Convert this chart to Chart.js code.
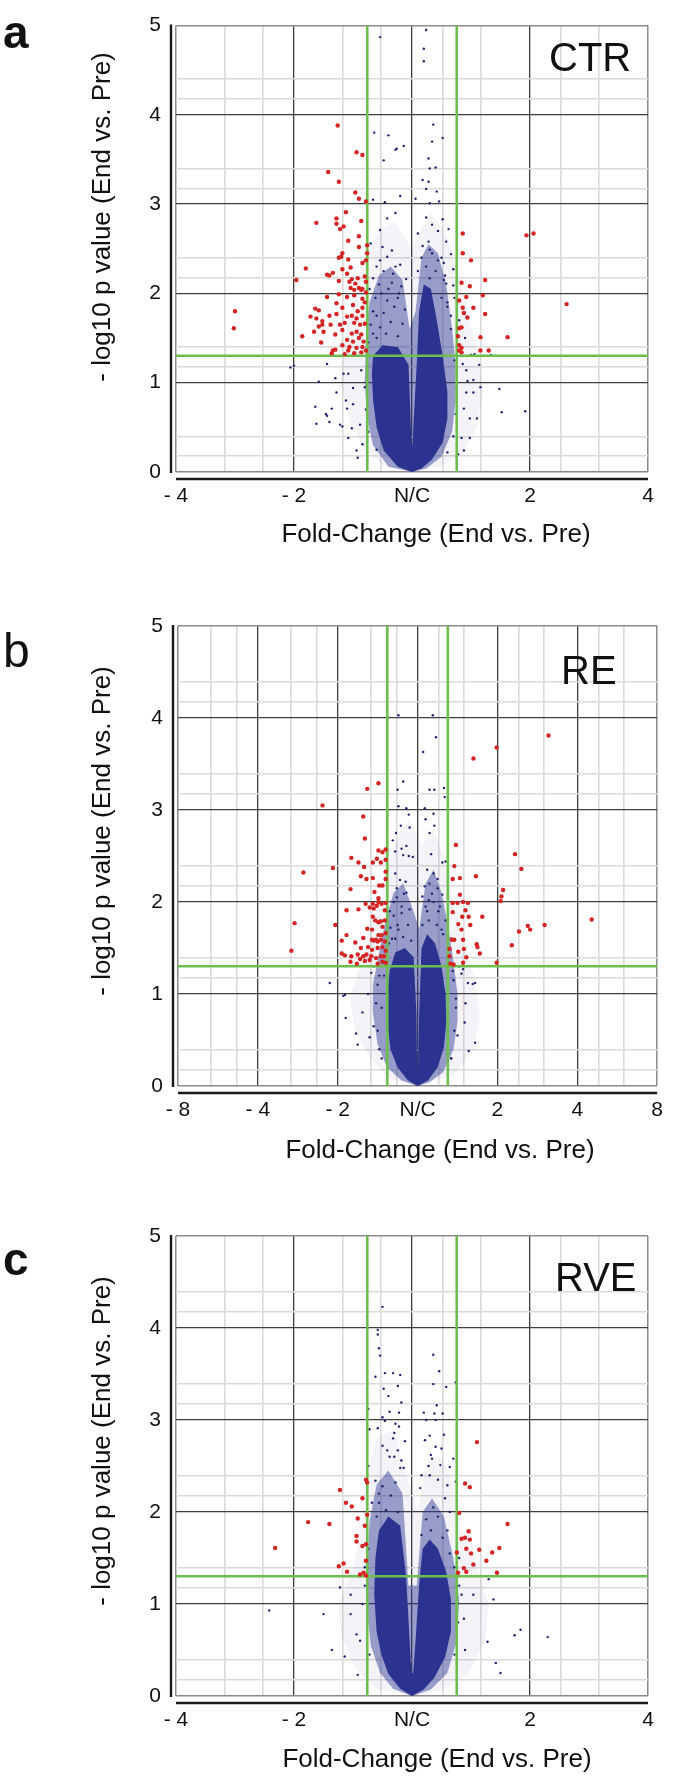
<!DOCTYPE html>
<html lang="en">
<head>
<meta charset="UTF-8" />
<title>Volcano plots</title>
<style>
  body { margin: 0; background: #fff; width: 675px; height: 1776px; position: relative; overflow: hidden;
         font-family: "Liberation Sans", Arial, sans-serif; color: #111; }
  .panel { position: absolute; left: 0; width: 675px; }
  .txt { position: absolute; line-height: 1; white-space: nowrap; }
  .xt { position: absolute; width: 400px; text-align: center; line-height: 1; font-size: 26px; white-space: nowrap; }
  .yt { position: absolute; left: -99px; width: 400px; height: 26px; text-align: center; line-height: 1;
        font-size: 26px; white-space: nowrap; transform: rotate(-90deg); }
</style>
</head>
<body>
<div class="panel" style="top:0"><canvas id="chartA" width="675" height="560"></canvas></div>
<div class="panel" style="top:580px"><canvas id="chartB" width="675" height="600"></canvas></div>
<div class="panel" style="top:1180px"><canvas id="chartC" width="675" height="596"></canvas></div>

<div class="txt" style="left:3px;top:9px;font-size:46px;font-weight:bold">a</div>
<div class="txt" style="left:3px;top:627px;font-size:48px">b</div>
<div class="txt" style="left:3px;top:1236px;font-size:46px;font-weight:bold">c</div>
<div class="txt" style="left:549px;top:37px;font-size:40px">CTR</div>
<div class="txt" style="left:561px;top:650px;font-size:40px">RE</div>
<div class="txt" style="left:555px;top:1257px;font-size:40px">RVE</div>
<div class="xt" style="left:236px;top:520px">Fold-Change (End vs. Pre)</div>
<div class="xt" style="left:240px;top:1136px">Fold-Change (End vs. Pre)</div>
<div class="xt" style="left:237px;top:1745px">Fold-Change (End vs. Pre)</div>
<div class="yt" style="top:204px">- log10 p value (End vs. Pre)</div>
<div class="yt" style="top:818px">- log10 p value (End vs. Pre)</div>
<div class="yt" style="top:1428px">- log10 p value (End vs. Pre)</div>

<script src="https://cdn.jsdelivr.net/npm/chart.js"></script>
<script>
// x = log2 fold change, y = -log10 p
const yTicks = [0, 1, 2, 3, 4, 5];
const yMinor = [0.176, 0.398, 1.176, 1.398, 2.176, 2.398, 3.176, 3.398, 4.176, 4.398];

const xTicksA = [-2, -1, 0, 1, 2];
const xLabelsA = ['- 4', '- 2', 'N/C', '2', '4'];
const xMinorA = [-1.585, -1.263, -0.585, -0.263, 0.263, 0.585, 1.263, 1.585];

const xTicksB = [-3, -2, -1, 0, 1, 2, 3];
const xLabelsB = ['- 8', '- 4', '- 2', 'N/C', '2', '4', '8'];
const xMinorB = [-2.585, -2.263, -1.585, -1.263, -0.585, -0.263, 0.263, 0.585, 1.263, 1.585, 2.263, 2.585];

// cut-offs: fold change 1.3 (log2), p = 0.05
const fcCut = 0.379;
const pCut = 1.301;

// ---- CTR ----
const redA = [[-0.63,3.88],[-0.47,3.58],[-0.42,3.55],[-0.71,3.36],[-0.62,3.25],[-0.48,3.13],[-0.45,3.06],[-0.39,3.03],
  [-0.56,2.91],[-0.81,2.79],[-0.64,2.84],[-0.64,2.78],[-0.61,2.72],[-0.58,2.75],[-0.43,2.81],[-0.54,2.59],[-0.45,2.64],
  [-0.45,2.52],[-0.38,2.54],[-0.59,2.45],[-0.62,2.40],[-0.60,2.41],[-0.54,2.38],[-0.38,2.45],[-0.42,2.34],[-0.90,2.28],
  [-0.72,2.21],[-0.70,2.20],[-0.67,2.23],[-0.59,2.27],[-0.52,2.29],[-0.98,2.15],[-0.62,2.14],[-0.55,2.22],[-0.53,2.13],
  [-0.51,2.16],[-0.48,2.11],[-0.46,2.17],[-0.40,2.19],[-0.39,2.13],[-0.52,2.06],[-0.49,2.04],[-0.45,2.06],[-0.42,2.05],
  [-0.72,1.96],[-0.62,1.99],[-0.55,1.96],[-0.49,1.98],[-0.42,1.94],[-0.40,1.90],[-0.82,1.83],[-0.79,1.81],[-0.64,1.89],
  [-0.59,1.84],[-0.50,1.87],[-0.46,1.80],[-0.42,1.84],[-0.86,1.74],[-0.81,1.72],[-0.76,1.69],[-0.70,1.75],[-0.64,1.77],
  [-0.55,1.74],[-0.51,1.75],[-0.47,1.72],[-0.42,1.75],[-0.79,1.63],[-0.76,1.65],[-0.69,1.65],[-0.61,1.65],[-0.57,1.67],
  [-0.49,1.67],[-0.44,1.65],[-0.40,1.66],[-0.83,1.57],[-0.75,1.57],[-0.65,1.54],[-0.59,1.59],[-0.51,1.55],[-0.47,1.57],
  [-0.43,1.54],[-0.93,1.52],[-0.77,1.45],[-0.55,1.48],[-0.50,1.46],[-0.45,1.50],[-0.41,1.46],[-0.59,1.42],[-0.53,1.40],
  [-0.47,1.39],[-0.42,1.40],[-0.67,1.36],[-0.65,1.37],[-0.68,1.33],[-0.57,1.32],[-0.54,1.36],[-0.43,1.34],[-0.49,1.33],
  [-0.39,1.36],[-1.50,1.80],[-1.51,1.61],[-0.39,2.37],[-0.43,2.04],[-0.39,2.01],
  [0.43,2.67],[0.43,2.45],[0.50,2.37],[0.42,2.12],[0.49,2.08],[0.40,1.92],[0.46,1.96],[0.43,1.84],[0.52,1.84],
  [0.44,1.78],[0.47,1.73],[0.40,1.61],[0.42,1.62],[0.39,1.52],[0.40,1.42],[0.42,1.39],[0.40,1.36],[0.42,1.34],
  [0.58,1.51],[0.97,2.65],[1.03,2.67],[1.31,1.88],[0.81,1.51],[0.62,2.15],[0.60,1.98],[0.62,1.77],[0.65,1.36],[0.58,1.36]];

const blueA = [[-0.27,4.87],[0.12,4.95],[0.10,4.74],[0.10,4.60],[-0.13,3.62],
  [-0.32,3.80],[-0.20,3.77],[-0.07,3.65],[-0.14,3.61],[-0.24,3.49],[0.18,3.89],[0.26,3.74],[0.17,3.70],[0.14,3.51],
  [0.15,3.40],[0.20,3.41],[0.09,3.27],[0.14,3.25],[0.21,3.14],[0.12,3.17],[-0.33,3.05],[-0.23,3.02],[-0.10,3.09],
  [0.03,3.06],[0.15,3.01],[0.23,3.03],[-0.14,2.90],[-0.21,2.84],[0.12,2.85],[0.17,2.77],[0.26,2.83],[0.22,2.70],
  [0.31,2.72],[-0.27,2.71],[0.05,2.67],[0.14,2.58],[-0.35,2.56],[-0.25,2.52],[-0.17,2.48],[0.09,2.53],[0.15,2.49],
  [0.29,2.58],[0.33,2.44],[-0.27,2.37],[-0.21,2.41],[-0.10,2.32],[0.22,2.37],[0.27,2.34],[0.35,2.27],[-0.33,2.17],
  [-0.16,2.22],[-0.05,2.16],[0.15,2.17],[0.29,2.11],[0.35,2.09],
  [-1.03,1.17],[-0.82,0.73],[-0.81,0.54],[-0.72,0.63],[-0.65,1.05],[-0.55,0.71],[-0.51,0.49],[-0.50,0.94],[-0.47,0.24],
  [-0.43,1.14],[0.46,1.14],[0.52,0.89],[0.55,0.60],[0.49,0.38],[0.53,1.32],[0.44,0.71],[0.44,0.24],[0.38,0.17],
  [0.74,0.93],[0.76,0.67],[0.96,0.68],[0.50,1.31],[0.67,1.31],[0.47,1.02],[-1.00,1.19],[-0.73,0.65],[-0.79,1.01],
  [-0.70,0.56],[-0.46,0.16],[-0.59,0.51],[-0.40,1.90],[-0.36,2.05],[-0.30,2.30],[0.36,1.95],[0.40,1.70],[0.45,1.50],
  [-0.58,1.10],[-0.56,0.80],[0.58,0.95],[0.57,1.20],
  [-0.72,1.21],[-0.64,0.89],[-0.54,1.10],[-0.50,0.76],[-0.44,0.53],[-0.42,0.31],[-0.38,1.21],[-0.54,0.38],[-0.61,0.53],
  [-0.68,0.71],[0.43,1.21],[0.46,0.89],[0.49,0.60],[0.42,0.38],[0.52,1.03],[0.39,0.20],[-0.30,1.75],[-0.26,2.00],
  [-0.33,1.55],[0.30,1.85],[0.33,1.60],[0.28,2.20],[-0.20,2.05],[-0.12,1.95],
  [-0.37,1.45],[-0.30,1.50],[-0.22,1.55],[-0.12,1.52],[-0.35,1.65],[-0.27,1.62],[-0.18,1.68],[-0.08,1.66],[-0.33,1.80],
  [-0.24,1.78],[-0.15,1.85],[-0.06,1.82],[-0.31,1.95],[-0.21,1.92],[-0.11,2.00],[-0.28,2.10],[-0.17,2.12],[-0.09,2.08],
  [-0.24,2.25],[-0.14,2.30],[0.05,2.25],[0.12,2.30],[0.20,2.25],[0.27,2.15],[0.08,2.40],[0.17,2.45],[0.25,2.40],
  [0.30,1.90],[0.33,1.75],[0.25,1.95],[-0.37,0.45],[-0.39,0.70],[-0.40,0.95],[-0.38,1.30],[0.35,0.40],[0.37,0.65],
  [0.38,0.95],[0.36,1.25],[-0.30,0.25],[0.30,0.22]];

const coreA = [[0,0],[-0.12,0.06],[-0.24,0.24],[-0.30,0.50],[-0.33,0.80],[-0.34,1.10],[-0.33,1.30],[-0.25,1.42],
  [-0.12,1.40],[-0.03,1.20],[-0.012,0.60],[-0.005,0.30],[0.005,0.30],[0.015,0.60],[0.04,1.20],[0.06,1.80],[0.10,2.10],
  [0.16,2.05],[0.21,1.70],[0.26,1.30],[0.30,0.90],[0.30,0.60],[0.26,0.33],[0.17,0.14],[0.08,0.04],[0,0]];
const midA = [[0,0],[-0.20,0.06],[-0.33,0.30],[-0.38,0.60],[-0.40,1.00],[-0.39,1.50],[-0.36,1.90],[-0.28,2.20],
  [-0.18,2.30],[-0.08,2.15],[-0.02,1.60],[0.03,1.80],[0.08,2.40],[0.14,2.55],[0.22,2.45],[0.29,2.10],[0.34,1.60],
  [0.37,1.20],[0.37,0.80],[0.34,0.45],[0.25,0.17],[0.12,0.04],[0,0]];
const haloA = [[0,0],[-0.25,0.08],[-0.40,0.25],[-0.52,0.55],[-0.60,0.95],[-0.58,1.40],[-0.50,1.90],[-0.40,2.40],
  [-0.28,2.70],[-0.15,2.80],[0,2.50],[0.15,2.90],[0.28,2.70],[0.38,2.30],[0.47,1.80],[0.56,1.30],[0.60,0.90],
  [0.55,0.50],[0.42,0.20],[0.25,0.06],[0,0]];

// ---- RE ----
const redB = [[1.64,3.81],[0.99,3.68],[0.70,3.56],[-0.49,3.29],[-0.63,3.23],[-1.19,3.05],[-0.68,2.93],[-0.66,2.69],
  [0.48,2.62],[1.22,2.52],[1.30,2.36],[-0.49,2.56],[-0.44,2.54],[-0.40,2.57],[-0.83,2.48],[-0.74,2.43],[-0.56,2.43],
  [-0.51,2.47],[-0.46,2.43],[-0.40,2.46],[-0.67,2.38],[-1.43,2.32],[-1.06,2.37],[0.46,2.39],[0.73,2.28],[-0.71,2.28],
  [-0.64,2.25],[-0.56,2.26],[-0.40,2.33],[0.44,2.25],[0.53,2.26],[-0.84,2.14],[-0.48,2.18],[-0.44,2.18],[-0.40,2.25],
  [-0.54,2.11],[-0.49,2.04],[-0.49,2.00],[-0.56,1.98],[-0.51,1.96],[-0.55,1.93],[-0.60,1.94],[-0.65,1.98],[-0.45,1.98],
  [-0.40,1.99],[-0.89,1.91],[-0.74,1.92],[-0.41,1.91],[1.07,2.13],[1.05,2.06],[1.04,2.01],[0.53,2.08],[0.50,1.99],
  [0.57,2.00],[0.63,1.99],[0.44,1.99],[0.44,1.89],[0.60,1.91],[0.56,1.84],[0.64,1.84],[0.81,1.84],[0.51,1.76],
  [0.55,1.70],[0.66,1.75],[2.18,1.81],[1.59,1.75],[1.38,1.74],[1.41,1.70],[1.27,1.68],[1.18,1.53],[0.99,1.34],
  [0.74,1.54],[0.75,1.51],[0.78,1.44],[0.57,1.59],[0.43,1.59],[0.46,1.59],[0.40,1.49],[0.51,1.46],[0.58,1.49],
  [0.61,1.40],[0.57,1.34],[0.40,1.41],[0.41,1.33],[0.45,1.32],[-1.54,1.77],[-1.03,1.75],[-0.89,1.64],[-0.78,1.56],
  [-0.95,1.58],[-0.56,1.84],[-0.53,1.80],[-0.49,1.78],[-0.46,1.79],[-0.41,1.80],[-0.44,1.73],[-0.57,1.70],[-0.63,1.71],
  [-0.49,1.64],[-0.45,1.64],[-0.40,1.66],[-0.57,1.59],[-0.55,1.58],[-0.52,1.59],[-0.50,1.57],[-0.46,1.59],[-0.41,1.57],
  [-0.68,1.61],[-0.71,1.50],[-0.62,1.51],[-0.57,1.48],[-0.50,1.50],[-0.44,1.51],[-0.40,1.47],[-1.58,1.47],[-0.95,1.44],
  [-0.91,1.42],[-0.83,1.41],[-0.75,1.43],[-0.68,1.41],[-0.64,1.43],[-0.58,1.41],[-0.72,1.38],[-0.66,1.36],[-0.60,1.37],
  [-0.52,1.39],[-0.46,1.41],[-0.42,1.41],[-0.84,1.35],[-0.76,1.33],[-0.50,1.33],[-0.44,1.35],[-0.40,1.34]];

const blueB = [[-0.24,4.03],[0.19,4.03],[0.23,3.79],[0.07,3.63],[-0.18,3.31],[-0.25,3.22],[0.33,3.24],[0.34,3.14],
  [0.15,3.22],[0.21,3.22],[-0.24,3.04],[-0.14,3.02],[0.09,3.02],[-0.11,2.95],[0.20,2.96],[0.10,2.90],[0.21,2.83],
  [-0.21,2.83],[-0.10,2.81],[-0.27,2.75],[0.15,2.75],[-0.31,2.67],[-0.14,2.61],[-0.20,2.58],[-0.28,2.55],[-0.06,2.49],
  [-0.11,2.50],[-0.18,2.51],[0.17,2.52],[0.31,2.43],[0.35,2.44],[0.12,2.35],[0.20,2.31],[-0.28,2.31],[-0.22,2.24],
  [-0.15,2.22],[-0.26,2.15],[-0.17,2.09],[0.09,2.17],[0.18,2.09],[0.25,2.15],[0.31,2.08],[0.06,2.06],[0.14,2.02],
  [0.63,1.12],[0.72,1.12],[-1.10,1.12],[-0.93,0.98],[0.55,1.22],[-0.90,0.74],[-0.91,0.99],[-0.77,0.57],[-0.75,0.45],
  [-0.69,0.80],[0.72,0.47],[0.69,1.11],[0.59,0.69],[0.64,0.38],[0.57,1.27],[-0.58,1.23],[-0.60,0.53],
  [-0.35,1.90],[-0.30,2.00],[0.35,1.80],[0.42,1.60],[-0.62,1.00],[0.60,0.90],
  [-0.50,1.10],[-0.45,0.85],[-0.55,0.65],[-0.48,0.40],[-0.42,1.20],[0.45,1.15],[0.48,0.85],[0.50,0.55],[0.42,0.30],
  [-0.32,1.60],[-0.25,1.75],[0.30,1.70],[0.26,1.90],[-0.20,1.95],[0.12,1.90],
  [-0.36,1.55],[-0.28,1.60],[-0.18,1.62],[-0.08,1.58],[-0.34,1.72],[-0.24,1.70],[-0.12,1.75],[-0.30,1.85],[-0.20,1.88],
  [-0.10,1.92],[-0.26,2.05],[-0.14,2.10],[0.06,1.75],[0.14,1.80],[0.24,1.75],[0.32,1.65],[0.10,1.95],[0.20,2.00],
  [0.28,1.95],[0.15,2.20],[0.25,2.25],[-0.45,0.30],[-0.50,0.60],[-0.52,0.90],[-0.48,1.20],[0.42,0.30],[0.46,0.60],
  [0.48,0.95],[0.44,1.25],[-0.55,1.30],[0.52,1.30]];

const coreB = [[0,0],[-0.12,0.06],[-0.25,0.20],[-0.34,0.40],[-0.38,0.70],[-0.38,1.00],[-0.35,1.25],[-0.28,1.45],
  [-0.16,1.50],[-0.05,1.40],[-0.015,0.80],[-0.006,0.20],[0.006,0.20],[0.02,0.80],[0.05,1.50],[0.12,1.65],[0.22,1.55],
  [0.30,1.30],[0.35,1.00],[0.36,0.70],[0.33,0.42],[0.25,0.20],[0.13,0.06],[0,0]];
const midB = [[0,0],[-0.20,0.06],[-0.38,0.20],[-0.50,0.45],[-0.56,0.80],[-0.56,1.10],[-0.48,1.45],[-0.40,1.80],
  [-0.30,2.10],[-0.18,2.20],[-0.05,1.90],[0.02,1.70],[0.10,2.20],[0.20,2.35],[0.30,2.10],[0.38,1.75],[0.45,1.35],
  [0.50,1.00],[0.50,0.70],[0.45,0.40],[0.32,0.15],[0.15,0.04],[0,0]];
const haloB = [[0,0],[-0.35,0.08],[-0.60,0.30],[-0.78,0.60],[-0.85,0.95],[-0.70,1.35],[-0.55,1.80],[-0.40,2.30],
  [-0.25,2.70],[-0.10,2.90],[0.05,2.60],[0.20,2.80],[0.32,2.50],[0.45,2.00],[0.55,1.60],[0.70,1.20],[0.78,0.75],
  [0.70,0.40],[0.45,0.12],[0,0]];

// ---- RVE ----
const redC = [[-1.16,1.61],[-0.88,1.89],[-0.70,1.87],[-0.61,2.24],[-0.56,2.10],[-0.51,2.06],[-0.46,1.93],[-0.42,2.15],
  [-0.39,2.35],[-0.38,2.32],[-0.38,1.97],[-0.40,1.85],[-0.47,1.74],[-0.47,1.68],[-0.42,1.63],[-0.39,1.65],[-0.39,1.47],
  [-0.62,1.41],[-0.58,1.44],[-0.55,1.35],[-0.44,1.32],[-0.41,1.34],[-0.39,1.31],
  [0.55,2.76],[0.45,2.31],[0.49,2.27],[0.40,1.99],[0.81,1.87],[0.48,1.79],[0.42,1.71],[0.45,1.72],[0.49,1.70],
  [0.46,1.60],[0.38,1.56],[0.50,1.55],[0.57,1.59],[0.68,1.56],[0.74,1.61],[0.63,1.47],[0.52,1.43],[0.44,1.39],
  [0.46,1.35],[0.39,1.34],[0.72,1.34]];

const blueC = [[-0.25,4.23],[-0.29,3.98],[-0.28,3.78],[-0.29,3.93],[-0.27,3.70],[0.18,3.71],[0.23,3.53],[-0.23,3.51],
  [-0.16,3.51],[-0.10,3.49],[-0.31,3.47],[-0.12,3.37],[-0.24,3.34],[-0.20,3.26],[0.18,3.39],[0.29,3.36],[-0.09,3.19],
  [0.21,3.16],[-0.19,3.09],[-0.11,3.08],[0.10,3.08],[0.19,3.07],[0.26,3.07],[-0.25,3.03],[-0.23,2.99],[-0.14,2.96],
  [-0.11,2.93],[0.20,3.00],[0.12,3.00],[-0.29,2.91],[-0.36,2.90],[-0.15,2.86],[-0.16,2.80],[-0.06,2.77],[0.15,2.83],
  [0.27,2.84],[0.11,2.78],[0.20,2.71],[0.25,2.69],[-0.25,2.72],[-0.21,2.67],[-0.12,2.67],[-0.19,2.60],[-0.15,2.60],
  [-0.09,2.56],[0.16,2.62],[0.17,2.58],[0.24,2.51],[0.35,2.58],[0.32,2.49],[0.14,2.50],[-0.10,2.48],[-0.07,2.48],
  [0.08,2.40],[0.15,2.40],[0.22,2.35],[0.30,2.29],[0.07,2.26],[-0.31,2.34],[-0.37,2.50],[0.37,2.33],[-0.37,3.12],
  [0.37,3.41],
  [-1.21,0.93],[-0.75,0.89],[-0.68,0.50],[-0.57,0.43],[-0.46,0.23],[-0.52,0.89],[1.15,0.64],[0.92,0.72],[0.87,0.66],
  [0.69,1.05],[0.75,0.25],[0.71,0.36],[0.64,0.59],[0.52,1.10],[0.44,0.84],[0.65,1.27],[-0.61,1.18],[-0.52,1.10],
  [-0.47,0.67],[-0.42,1.00],[-0.44,0.60],[-0.40,1.40],[0.42,1.10],[0.45,0.50],[0.40,1.50],[-0.34,2.10],[0.32,2.00],
  [0.28,2.15],[-0.28,2.20],
  [-0.30,1.95],[-0.22,2.02],[-0.12,2.00],[-0.28,2.10],[-0.18,2.18],[-0.25,2.28],[-0.14,2.32],[0.08,1.75],[0.16,1.80],
  [0.26,1.72],[0.32,1.55],[0.12,1.92],[0.22,1.95],[0.30,1.80],[0.18,2.05],[-0.36,0.45],[-0.38,0.80],[-0.40,1.20],
  [0.36,0.45],[0.39,0.80],[0.40,1.20],[-0.37,1.60],[0.36,1.40]];

const coreC = [[0,0],[-0.10,0.08],[-0.20,0.24],[-0.26,0.45],[-0.30,0.70],[-0.32,1.10],[-0.31,1.50],[-0.28,1.80],
  [-0.20,1.95],[-0.10,1.85],[-0.05,1.30],[-0.02,0.60],[-0.005,0.25],[0.01,0.25],[0.03,0.60],[0.06,1.20],[0.09,1.60],
  [0.15,1.70],[0.22,1.60],[0.29,1.35],[0.33,1.05],[0.33,0.70],[0.28,0.42],[0.19,0.20],[0.10,0.07],[0,0]];
const midC = [[0,0],[-0.16,0.08],[-0.27,0.25],[-0.35,0.55],[-0.38,0.95],[-0.38,1.40],[-0.36,1.90],[-0.30,2.30],
  [-0.20,2.45],[-0.08,2.20],[-0.03,1.20],[0.04,1.20],[0.09,2.00],[0.17,2.15],[0.27,1.95],[0.35,1.50],[0.40,1.05],
  [0.38,0.60],[0.30,0.25],[0.16,0.07],[0,0]];
const haloC = [[0,0],[-0.30,0.08],[-0.48,0.30],[-0.60,0.65],[-0.62,1.00],[-0.50,1.40],[-0.42,1.90],[-0.38,2.40],
  [-0.30,2.80],[-0.15,2.90],[-0.05,2.40],[0.05,2.00],[0.12,2.50],[0.25,2.60],[0.35,2.30],[0.42,1.80],[0.55,1.40],
  [0.65,1.00],[0.62,0.60],[0.48,0.25],[0.25,0.06],[0,0]];

const FONT = "'Liberation Sans', Arial, sans-serif";
const NAVY = '#2b3290';
const DOT = '#1c2370';
const RED = '#d42424';
const GREEN = '#6cbf4c';

const pts = arr => arr.map(p => ({ x: p[0], y: p[1] }));

function gridStyle(v, majors, lo, hi) {
  if (v === lo || v === hi) return { c: '#8c8c8c', w: 1.5 };
  if (majors.includes(v)) return { c: '#3e3e3e', w: 1.3 };
  return { c: '#dadada', w: 1.6 };
}

const axisLines = {
  id: 'axisLines',
  afterDraw(chart) {
    const { ctx, chartArea: a } = chart;
    ctx.save();
    ctx.strokeStyle = '#1a1a1a';
    ctx.lineWidth = 2.4;
    ctx.beginPath();
    ctx.moveTo(a.left - 5, a.top - 1);
    ctx.lineTo(a.left - 5, a.bottom + 1);
    ctx.moveTo(a.left, a.bottom + 7);
    ctx.lineTo(a.right, a.bottom + 7);
    ctx.stroke();
    ctx.restore();
  }
};

function volcano(id, d) {
  const xGrid = [...d.xTicks, ...d.xMinor].sort((p, q) => p - q);
  const yGrid = [...yTicks, ...yMinor].sort((p, q) => p - q);
  const xLo = d.xTicks[0], xHi = d.xTicks[d.xTicks.length - 1];
  const area = (data, color, order) => ({
    data: pts(data), showLine: true, fill: 'shape', backgroundColor: color,
    borderColor: 'rgba(0,0,0,0)', borderWidth: 0, pointRadius: 0, tension: 0, order: order
  });
  const guide = (data) => ({
    data: pts(data), showLine: true, borderColor: GREEN, borderWidth: 2.6, pointRadius: 0, fill: false, order: 2
  });

  return new Chart(document.getElementById(id), {
    type: 'scatter',
    data: {
      datasets: [
        { data: pts(d.red), backgroundColor: RED, borderWidth: 0, pointRadius: 2.2, order: 1 },
        guide([[-fcCut, 0], [-fcCut, 5]]),
        guide([[fcCut, 0], [fcCut, 5]]),
        guide([[xLo, pCut], [xHi, pCut]]),
        { data: pts(d.blue), backgroundColor: DOT, borderWidth: 0, pointRadius: 1.2, order: 3 },
        area(d.core, NAVY, 4),
        area(d.mid, 'rgba(43,50,144,0.45)', 5),
        area(d.halo, 'rgba(43,50,144,0.06)', 6)
      ]
    },
    options: {
      responsive: false,
      animation: false,
      devicePixelRatio: 1,
      events: [],
      layout: { padding: { top: d.padTop, right: d.padRight, left: 0, bottom: 0 } },
      plugins: { legend: { display: false }, tooltip: { enabled: false } },
      scales: {
        x: {
          type: 'linear', min: xLo, max: xHi,
          afterBuildTicks: s => { s.ticks = xGrid.map(v => ({ value: v })); },
          afterFit: s => { s.height = d.xH; },
          ticks: {
            autoSkip: false, maxRotation: 0, padding: 12, color: '#111',
            font: { family: FONT, size: 21 },
            callback: v => { const i = d.xTicks.indexOf(v); return i < 0 ? '' : d.xLabels[i]; }
          },
          grid: {
            drawTicks: false,
            color: c => gridStyle(c.tick.value, d.xTicks, xLo, xHi).c,
            lineWidth: c => gridStyle(c.tick.value, d.xTicks, xLo, xHi).w
          },
          border: { display: false }
        },
        y: {
          type: 'linear', min: 0, max: 5,
          afterBuildTicks: s => { s.ticks = yGrid.map(v => ({ value: v })); },
          afterFit: s => { s.width = d.yW; },
          ticks: {
            autoSkip: false, padding: 15, color: '#111',
            font: { family: FONT, size: 21, lineHeight: 1 },
            callback: v => (yTicks.includes(v) ? String(v) : '')
          },
          grid: {
            drawTicks: false,
            color: c => gridStyle(c.tick.value, yTicks, 0, 5).c,
            lineWidth: c => gridStyle(c.tick.value, yTicks, 0, 5).w
          },
          border: { display: false }
        }
      }
    },
    plugins: [axisLines]
  });
}

volcano('chartA', { red: redA, blue: blueA, core: coreA, mid: midA, halo: haloA,
  xTicks: xTicksA, xLabels: xLabelsA, xMinor: xMinorA, padTop: 10, padRight: 27, yW: 176, xH: 88 });
volcano('chartB', { red: redB, blue: blueB, core: coreB, mid: midB, halo: haloB,
  xTicks: xTicksB, xLabels: xLabelsB, xMinor: xMinorB, padTop: 46, padRight: 10, yW: 178, xH: 94 });
volcano('chartC', { red: redC, blue: blueC, core: coreC, mid: midC, halo: haloC,
  xTicks: xTicksA, xLabels: xLabelsA, xMinor: xMinorA, padTop: 56, padRight: 27, yW: 176, xH: 80 });
</script>
</body>
</html>
